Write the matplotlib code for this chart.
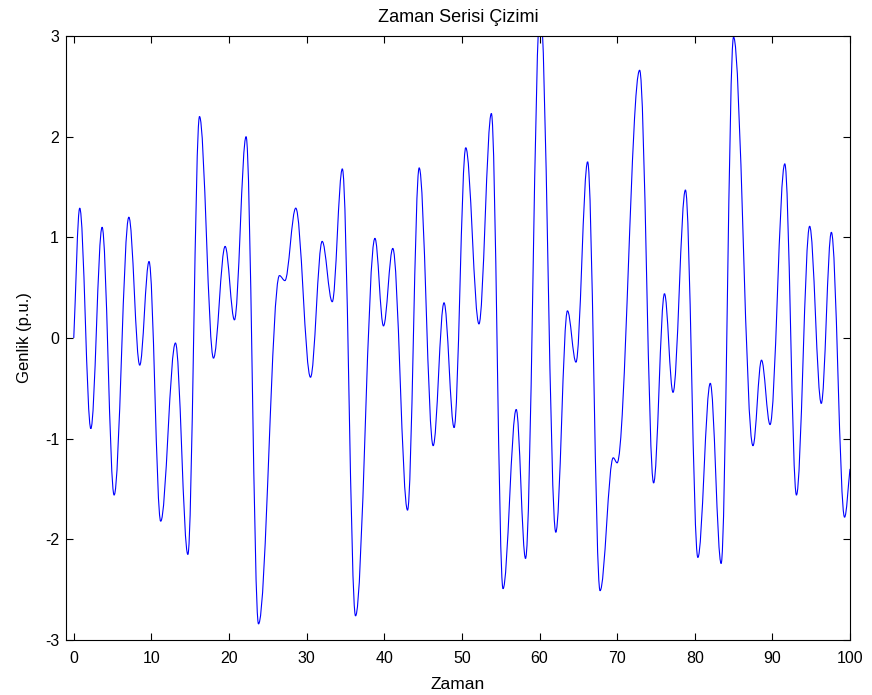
import matplotlib
matplotlib.use('Agg')
import matplotlib.pyplot as plt
from matplotlib.path import Path
from matplotlib.patches import PathPatch

# turning points of the series (time, amplitude)
zaman = [0, 0.77, 2.2, 3.65, 5.2, 7.1, 8.5, 9.7, 11.2, 13.1, 14.7, 16.2, 18.0,
         19.5, 20.7, 22.2, 23.8, 26.5, 27.2, 28.6, 30.5, 32.0, 33.3, 34.6,
         36.3, 38.8, 39.9, 41.1, 43.0, 44.5, 46.3, 47.7, 49.0, 50.5, 52.2,
         53.8, 55.3, 57.0, 58.2, 60.1, 62.1, 63.6, 64.7, 66.2, 67.8, 69.5,
         70.0, 72.9, 74.7, 76.1, 77.2, 78.8, 80.4, 82.0, 83.4, 85.0, 87.5,
         88.6, 89.7, 91.6, 93.1, 94.8, 96.3, 97.6, 99.3, 100.0]
genlik = [0, 1.29, -0.90, 1.10, -1.56, 1.20, -0.27, 0.76, -1.82, -0.05, -2.15,
          2.20, -0.20, 0.91, 0.18, 2.0, -2.84, 0.62, 0.57, 1.29, -0.39, 0.96,
          0.36, 1.68, -2.76, 0.99, 0.12, 0.89, -1.71, 1.69, -1.07, 0.35,
          -0.89, 1.89, 0.14, 2.23, -2.49, -0.71, -2.19, 3.3, -1.93, 0.27,
          -0.24, 1.75, -2.51, -1.19, -1.24, 2.66, -1.44, 0.44, -0.54, 1.47,
          -2.18, -0.45, -2.24, 2.99, -1.07, -0.22, -0.86, 1.73, -1.56, 1.11,
          -0.65, 1.05, -1.78, -1.3]

x_ticks = [0, 10, 20, 30, 40, 50, 60, 70, 80, 90, 100]
y_ticks = [-3, -2, -1, 0, 1, 2, 3]


def smooth_path(t, v, k=0.36):
    # bezier segments with flat tangents at each turning point (cosine-like)
    verts = [(t[0], v[0])]
    codes = [Path.MOVETO]
    n = len(t)
    for i in range(n - 1):
        dt = t[i + 1] - t[i]
        dv = v[i + 1] - v[i]
        if i == 0:
            c1 = (t[i] + dt / 3, v[i] + dv / 3)
        else:
            c1 = (t[i] + k * dt, v[i])
        if i == n - 2:
            c2 = (t[i + 1] - dt / 3, v[i + 1] - dv / 3)
        else:
            c2 = (t[i + 1] - k * dt, v[i + 1])
        verts += [c1, c2, (t[i + 1], v[i + 1])]
        codes += [Path.CURVE4] * 3
    return Path(verts, codes)


plt.rcParams['font.family'] = ['Liberation Sans', 'DejaVu Sans']
plt.rcParams['font.size'] = 11.5
plt.rcParams['axes.unicode_minus'] = False

fig = plt.figure(figsize=(8.72, 6.95), dpi=100)
ax = fig.add_axes([66 / 872, 1 - 640 / 695, 784 / 872, 604 / 695])

ax.add_patch(PathPatch(smooth_path(zaman, genlik), fill=False,
                       edgecolor=(0, 0, 1), linewidth=0.8))

ax.set_xlim(-1, 100)
ax.set_ylim(-3, 3)
ax.set_xticks(x_ticks)
ax.set_yticks(y_ticks)
ax.tick_params(direction='in', length=5, width=0.8, top=True, right=True,
               colors='black')
ax.tick_params(axis='x', pad=8)
ax.tick_params(axis='y', pad=5)
for s in ax.spines.values():
    s.set_linewidth(0.8)

ax.set_title('Zaman Serisi Çizimi', fontsize=13, pad=10)
ax.set_xlabel('Zaman', fontsize=12.5, labelpad=8)
ax.set_ylabel('Genlik (p.u.)', fontsize=12, labelpad=9)

fig.savefig('out.png', dpi=100)
